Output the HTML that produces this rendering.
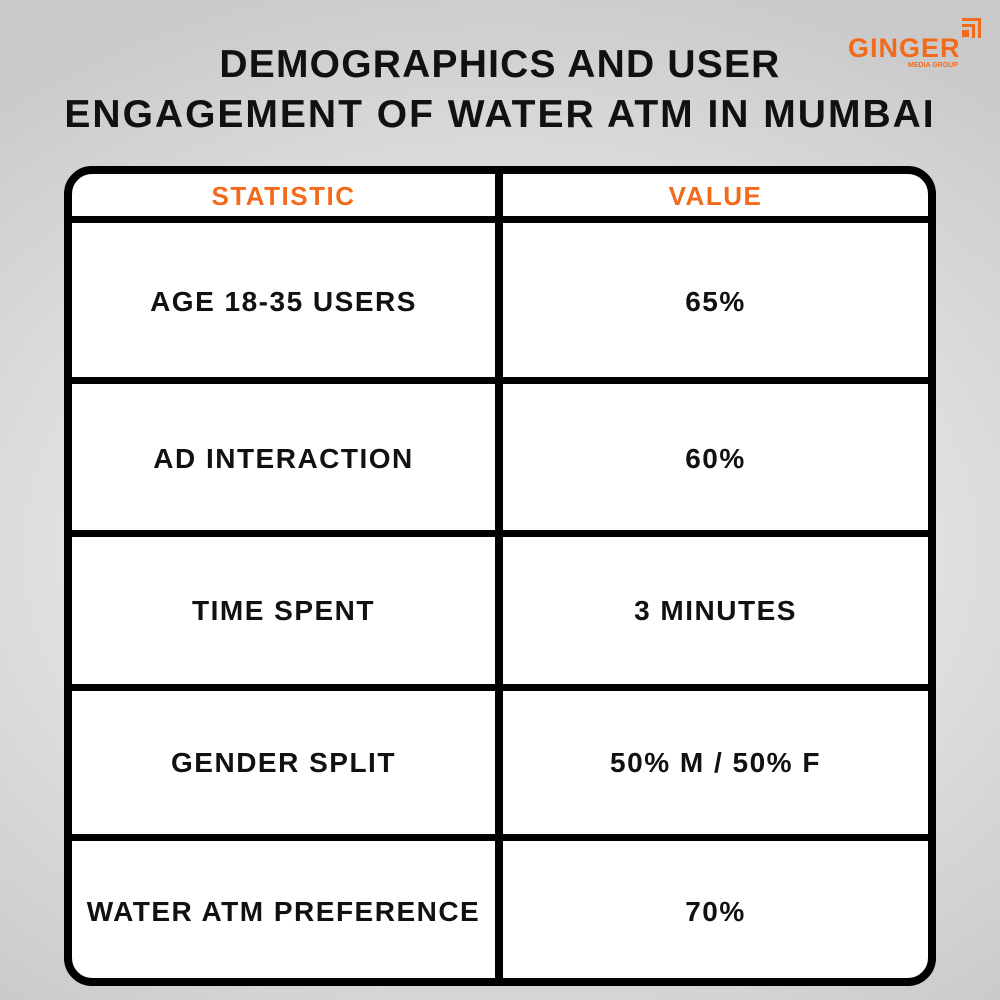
<!DOCTYPE html>
<html><head><style>
body{margin:0;width:1000px;height:1000px;overflow:hidden;font-family:"Liberation Sans",sans-serif;font-weight:bold;
background:radial-gradient(ellipse 80% 60% at 50% 55%,#f2f2f2 0%,#e2e2e2 50%,#c9c9c9 100%);position:relative}
.t{position:absolute;left:0;width:1000px;text-align:center;font-size:39px;color:#111;letter-spacing:1.2px}
.logo{position:absolute;left:848px;top:33px;color:#f26b1d;font-size:27px;letter-spacing:1px}
.sub{position:absolute;left:908px;top:62px;color:#f26b1d;font-size:7px}
.box{position:absolute;left:64px;top:166px;width:856px;height:804px;border:8px solid #000;border-radius:28px;background:#fff}
.h{position:absolute;left:64px;width:872px;height:7px;background:#000}
.v{position:absolute;left:495px;top:166px;width:8px;height:820px;background:#000}
.c{position:absolute;text-align:center;font-size:28px;color:#111;letter-spacing:1.5px}
.o{color:#f26b1d;font-size:26px}
</style></head><body>
<div class="t" style="top:43px">DEMOGRAPHICS AND USER</div>
<div class="t" style="top:93px;letter-spacing:2px">ENGAGEMENT OF WATER ATM IN MUMBAI</div>
<div class="logo">GINGER</div>
<div class="sub">MEDIA GROUP</div>
<div style="position:absolute;left:962px;top:18px;width:19px;height:3px;background:#f26b1d"></div>
<div style="position:absolute;left:978px;top:18px;width:3px;height:20px;background:#f26b1d"></div>
<div style="position:absolute;left:962px;top:24px;width:13px;height:3px;background:#f26b1d"></div>
<div style="position:absolute;left:972px;top:24px;width:3px;height:14px;background:#f26b1d"></div>
<div style="position:absolute;left:962px;top:30px;width:7px;height:7px;background:#f26b1d"></div>
<div class="box"></div>
<div class="h" style="top:216px"></div>
<div class="h" style="top:377px"></div>
<div class="h" style="top:530px"></div>
<div class="h" style="top:684px"></div>
<div class="h" style="top:834px"></div>
<div class="v"></div>
<div class="c o" style="left:72px;width:423px;top:181px">STATISTIC</div>
<div class="c o" style="left:503px;width:425px;top:181px">VALUE</div>
<div class="c" style="left:72px;width:423px;top:286px">AGE 18-35 USERS</div>
<div class="c" style="left:503px;width:425px;top:286px">65%</div>
<div class="c" style="left:72px;width:423px;top:443px">AD INTERACTION</div>
<div class="c" style="left:503px;width:425px;top:443px">60%</div>
<div class="c" style="left:72px;width:423px;top:595px">TIME SPENT</div>
<div class="c" style="left:503px;width:425px;top:595px">3 MINUTES</div>
<div class="c" style="left:72px;width:423px;top:747px">GENDER SPLIT</div>
<div class="c" style="left:503px;width:425px;top:747px">50% M / 50% F</div>
<div class="c" style="left:72px;width:423px;top:896px">WATER ATM PREFERENCE</div>
<div class="c" style="left:503px;width:425px;top:896px">70%</div>
</body></html>
